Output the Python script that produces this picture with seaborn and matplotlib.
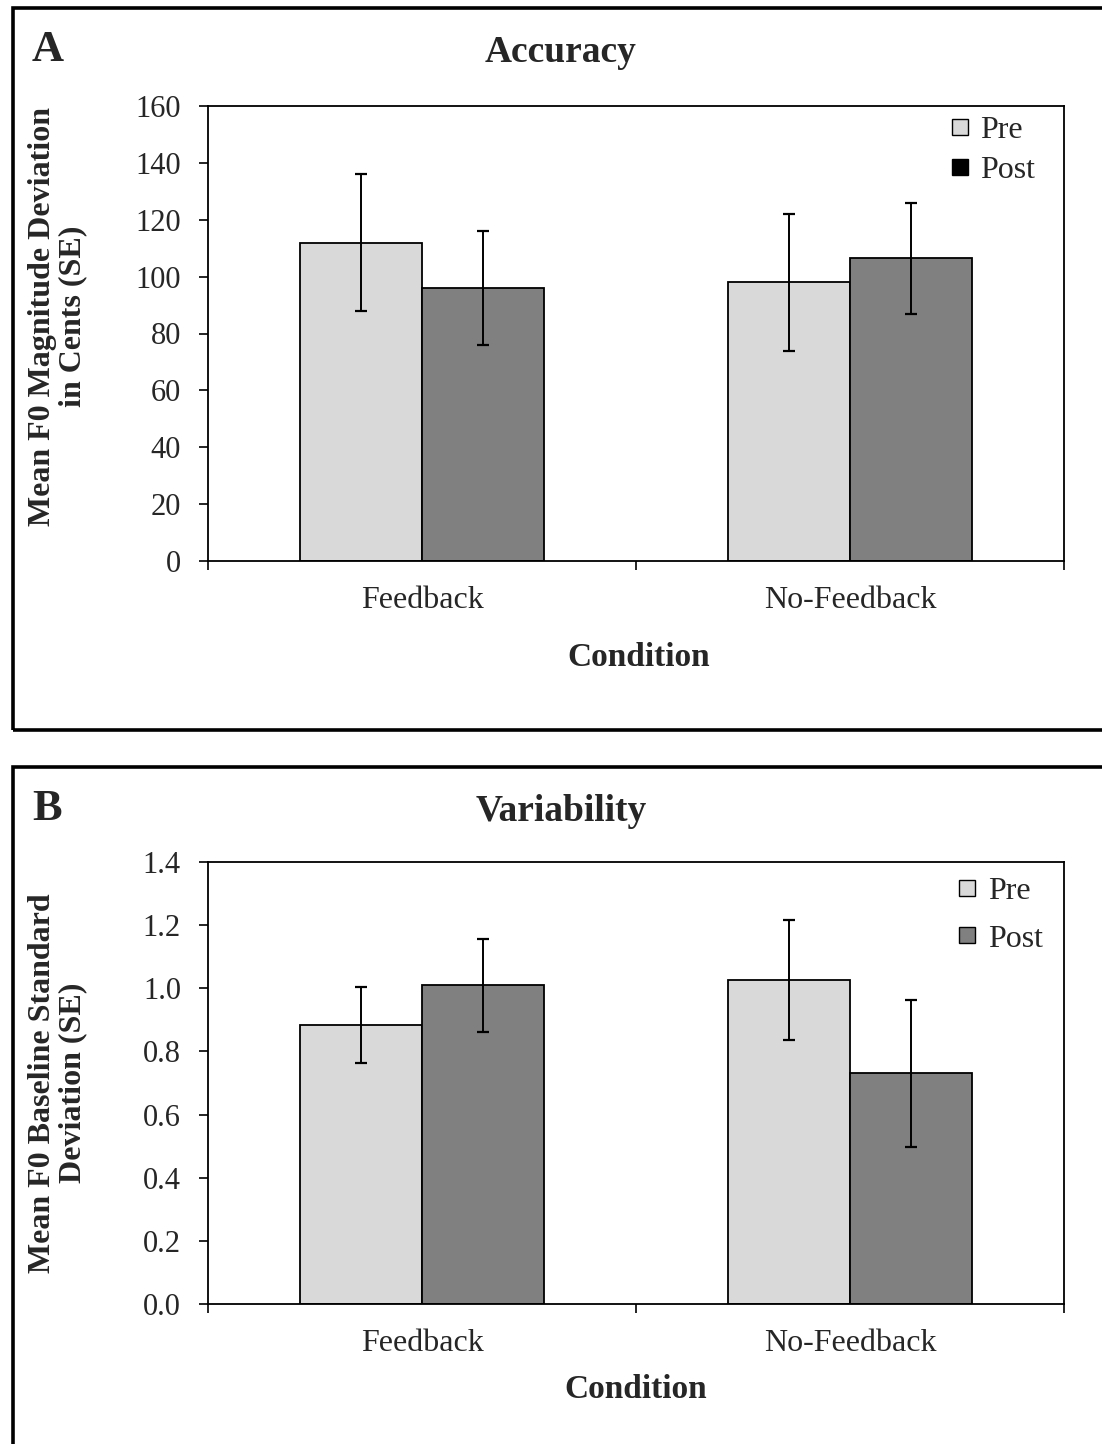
import numpy as np
import pandas as pd
import seaborn as sns
import matplotlib.pyplot as plt
from matplotlib.lines import Line2D
from matplotlib.patches import Rectangle

# data
conditions = ["Feedback", "No-Feedback"]
phases = ["Pre", "Post"]

acc_pre = [112.0, 98.0]
acc_post = [96.0, 106.5]
acc_se_pre = [24.0, 24.0]
acc_se_post = [20.0, 19.5]

var_pre = [0.884, 1.026]
var_post = [1.010, 0.731]
var_se_pre = [0.12, 0.19]
var_se_post = [0.147, 0.233]

acc_ticks = [0, 20, 40, 60, 80, 100, 120, 140, 160]
var_ticks = [0.0, 0.2, 0.4, 0.6, 0.8, 1.0, 1.2, 1.4]

pre_color = "#d9d9d9"
post_color = "#808080"

sns.set_style("ticks")
plt.rcParams['font.family'] = ['Liberation Serif', 'DejaVu Serif']

W, H = 1102, 1444
fig = plt.figure(figsize=(W / 100, H / 100), dpi=100)


def fx(px):
    return px / W


def fy(py):
    return 1 - py / H


def panel(ax, pre, post, se_pre, se_post, ticks, fmt, legend_post_color,
          leg_anchor, leg_spacing):
    df = pd.DataFrame({
        "Condition": conditions * 2,
        "Phase": ["Pre"] * 2 + ["Post"] * 2,
        "Value": list(pre) + list(post),
    })
    sns.barplot(data=df, x="Condition", y="Value", hue="Phase",
                hue_order=phases, order=conditions,
                palette=[pre_color, post_color], width=0.57,
                errorbar=None, edgecolor="black", linewidth=1.3,
                legend=False, ax=ax)
    # error bars at the bar centres
    ses = list(se_pre) + list(se_post)
    vals = list(pre) + list(post)
    bars = [p for p in ax.patches if p.get_height() > 0]
    bars = sorted(bars, key=lambda p: p.get_x())
    order = [0, 2, 1, 3]  # pre F, post F, pre NF, post NF by x position
    for b, i in zip(bars, order):
        ax.errorbar(b.get_x() + b.get_width() / 2, vals[i], yerr=ses[i],
                    color="black", lw=1.4, capsize=4.5, capthick=1.6)
    ax.set_ylim(ticks[0], ticks[-1])
    ax.set_yticks(ticks)
    ax.set_yticklabels([fmt(t) for t in ticks])
    ax.set_xlim(-0.5, 1.5)
    ax.set_xticks([0, 1])
    ax.set_xticklabels(conditions)
    ax.set_xticks([-0.5, 0.5, 1.5], minor=True)
    ax.tick_params(axis="x", which="major", length=0, pad=18, labelsize=23)
    ax.tick_params(axis="x", which="minor", length=6.5, width=1.2,
                   direction="out", color="black")
    ax.tick_params(axis="y", length=6.5, width=1.2, direction="out",
                   color="black", labelsize=22, pad=13)
    for s in ax.spines.values():
        s.set_visible(True)
        s.set_color("black")
        s.set_linewidth(1.3)
    ax.set_xlabel("")
    ax.set_ylabel("")
    handles = [
        Line2D([], [], marker="s", ls="", markersize=11.5,
               markerfacecolor=pre_color, markeredgecolor="black", mew=1),
        Line2D([], [], marker="s", ls="", markersize=11.5,
               markerfacecolor=legend_post_color, markeredgecolor="black", mew=1),
    ]
    ax.legend(handles, phases, loc="upper right", bbox_to_anchor=leg_anchor,
              frameon=False, fontsize=23, handletextpad=0.15,
              handlelength=1.0, labelspacing=leg_spacing, borderaxespad=0.2)


# panel A
axA = fig.add_axes([fx(208), fy(561), fx(1064) - fx(208), fy(106) - fy(561)])
panel(axA, acc_pre, acc_post, acc_se_pre, acc_se_post, acc_ticks,
      lambda t: f"{t:d}", "black", (0.989, 1.02), 0.33)

# panel B
axB = fig.add_axes([fx(208), fy(1304), fx(1064) - fx(208), fy(862) - fy(1304)])
panel(axB, var_pre, var_post, var_se_pre, var_se_post, var_ticks,
      lambda t: f"{t:.1f}", post_color, (0.998, 1.01), 0.57)

# outer frames
fig.patches.append(Rectangle((fx(13), fy(730)), fx(1200) - fx(13), fy(8) - fy(730),
                             transform=fig.transFigure, fill=False,
                             edgecolor="black", lw=2.6))
fig.patches.append(Rectangle((fx(13), fy(1500)), fx(1200) - fx(13), fy(767) - fy(1500),
                             transform=fig.transFigure, fill=False,
                             edgecolor="black", lw=2.6))

# titles, panel letters and axis labels
fig.text(fx(561), fy(53), "Accuracy", ha="center", va="center",
         fontsize=27, fontweight="bold")
fig.text(fx(561), fy(812), "Variability", ha="center", va="center",
         fontsize=27, fontweight="bold")
fig.text(fx(32), fy(50), "A", ha="left", va="center", fontsize=32, fontweight="bold")
fig.text(fx(32), fy(809), "B", ha="left", va="center", fontsize=32, fontweight="bold")

fig.text(fx(58), fy(316), "Mean F0 Magnitude Deviation\nin Cents (SE)",
         ha="center", va="center", rotation=90, fontsize=23,
         fontweight="bold", linespacing=1.05)
fig.text(fx(58), fy(1083), "Mean F0 Baseline Standard\nDeviation (SE)",
         ha="center", va="center", rotation=90, fontsize=23,
         fontweight="bold", linespacing=1.05)

fig.text(fx(639), fy(657), "Condition", ha="center", va="center",
         fontsize=24, fontweight="bold")
fig.text(fx(636), fy(1389), "Condition", ha="center", va="center",
         fontsize=24, fontweight="bold")

fig.savefig("out.png", dpi=100, facecolor="white")
